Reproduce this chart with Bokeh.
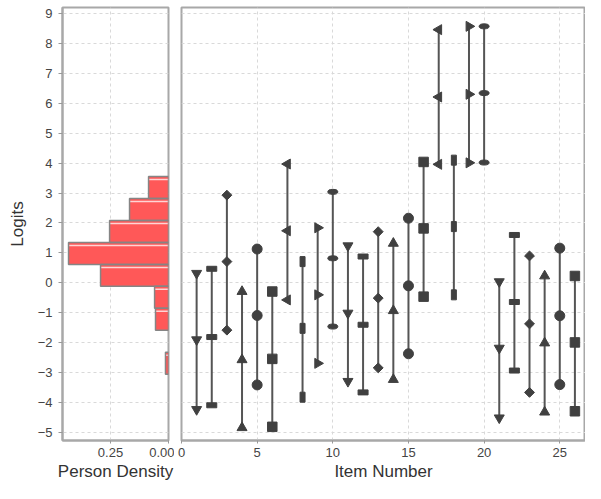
import numpy as np
from bokeh.plotting import figure
from bokeh.layouts import row
from bokeh.models import Range1d, FixedTicker, NumeralTickFormatter
from bokeh.embed import file_html
from bokeh.resources import INLINE

# ---------------- data ----------------
items = list(range(1, 27))
high = [0.32, 0.47, 2.93, -0.29, 1.13, -0.29, 3.97, 0.71, 1.84, 3.04,
        1.24, 0.88, 1.71, 1.32, 2.16, 4.04, 8.46, 4.10, 8.57, 8.57,
        0.04, 1.60, 0.90, 0.23, 1.16, 0.23]
mid = [-1.90, -1.81, 0.71, -2.57, -1.09, -2.54, 1.74, -1.52, -0.40, 0.82,
       -1.01, -1.40, -0.51, -0.93, -0.10, 1.82, 6.21, 1.88, 6.30, 6.34,
       -2.18, -0.64, -1.37, -2.01, -1.10, -1.99]
low = [-4.23, -4.09, -1.58, -4.84, -3.41, -4.81, -0.57, -3.82, -2.69, -1.46,
       -3.29, -3.66, -2.84, -3.23, -2.37, -0.46, 3.96, -0.40, 4.01, 4.02,
       -4.51, -2.93, -3.66, -4.32, -3.40, -4.29]

bin_edges = [-3.05, -2.317, -1.583, -0.85, -0.117, 0.617, 1.35, 2.083, 2.817, 3.55]
density = [0.013, 0.0, 0.056, 0.060, 0.293, 0.431, 0.254, 0.168, 0.086]

y_ticks = list(range(-5, 10))
item_ticks = [0, 5, 10, 15, 20, 25]
density_ticks = [0.0, 0.25]

shape_cycle = ["inverted_triangle", "hbar", "diamond", "triangle", "circle",
               "square", "left_triangle", "vbar", "right_triangle", "ellipse"]

# ---------------- style ----------------
FONT = "Liberation Sans"
FRAME = "#a8a8a8"
GRID = "#d9d9d9"
MARK = "#404040"
TICK_TXT = "#444444"
LABEL_TXT = "#333333"

yr = Range1d(-5.267, 9.2)


def style(p):
    p.outline_line_color = FRAME
    p.outline_line_width = 2
    p.background_fill_color = "white"
    p.border_fill_color = "white"
    for g in (p.xgrid, p.ygrid):
        g.grid_line_color = GRID
        g.grid_line_dash = "3 3"
        g.grid_line_width = 1
    for ax in p.axis:
        ax.axis_line_color = FRAME
        ax.axis_line_width = 2
        ax.major_tick_line_color = "#999999"
        ax.major_tick_in = 0
        ax.minor_tick_line_color = None
        ax.major_label_text_font = FONT
        ax.major_label_text_font_size = "13px"
        ax.major_label_text_color = TICK_TXT
        ax.axis_label_text_font = FONT
        ax.axis_label_text_font_size = "17px"
        ax.axis_label_text_font_style = "normal"
        ax.axis_label_text_color = LABEL_TXT


# ---------------- left: person density ----------------
left = figure(width=174, height=483, x_range=Range1d(0.457, 0.0), y_range=yr,
              output_backend="svg", toolbar_location=None,
              min_border_left=62, min_border_right=6, min_border_top=7,
              min_border_bottom=42)
style(left)
left.xaxis.ticker = FixedTicker(ticks=density_ticks)
left.xaxis.formatter = NumeralTickFormatter(format="0.00")
left.yaxis.ticker = FixedTicker(ticks=y_ticks)
left.ygrid.ticker = FixedTicker(ticks=y_ticks)
left.xgrid.ticker = FixedTicker(ticks=density_ticks)
left.xaxis.axis_label = "Person Density"
left.yaxis.axis_label = "Logits"
left.xaxis.major_tick_out = 3
left.yaxis.major_tick_out = 4
left.yaxis.major_label_standoff = 6
left.yaxis.axis_label_standoff = 8
left.xaxis.major_label_standoff = 4
left.xaxis.axis_label_standoff = 2

d = np.array(density)
e = np.array(bin_edges)
nz = d > 0
bot = e[:-1][nz]
top = e[1:][nz]
dv = d[nz]
left.quad(left=dv, right=0, bottom=bot, top=top, fill_color="#ff5858",
          line_color=None)
left.segment(x0=dv, y0=top - 0.1, x1=0, y1=top - 0.1,
             line_color="#ffd4d4", line_width=1.5)
left.quad(left=dv, right=0, bottom=bot, top=top, fill_color=None,
          line_color="#858585", line_width=1.5)

# ---------------- right: items ----------------
right = figure(width=411, height=483, x_range=Range1d(0, 26.7), y_range=yr,
               output_backend="svg", toolbar_location=None,
               y_axis_location=None,
               min_border_left=7, min_border_right=0, min_border_top=7,
               min_border_bottom=42)
style(right)
right.xaxis.ticker = FixedTicker(ticks=item_ticks)
right.xgrid.ticker = FixedTicker(ticks=item_ticks)
right.ygrid.ticker = FixedTicker(ticks=y_ticks)
right.xaxis.axis_label = "Item Number"
right.xaxis.major_tick_out = 3
right.xaxis.major_label_standoff = 4
right.xaxis.axis_label_standoff = 2

right.segment(x0=items, y0=low, x1=items, y1=high, line_color="#555555",
              line_width=2)

groups = {s: {"x": [], "y": []} for s in shape_cycle}
for i, it in enumerate(items):
    s = shape_cycle[i % len(shape_cycle)]
    for v in (high[i], mid[i], low[i]):
        groups[s]["x"].append(it)
        groups[s]["y"].append(v)

kw = dict(fill_color=MARK, line_color=MARK)
g = groups["inverted_triangle"]
right.scatter(g["x"], g["y"], marker="inverted_triangle", size=10, **kw)
g = groups["triangle"]
right.scatter(g["x"], g["y"], marker="triangle", size=10, **kw)
g = groups["circle"]
right.scatter(g["x"], g["y"], marker="circle", size=10, **kw)
g = groups["square"]
right.scatter(g["x"], g["y"], marker="square", size=9.5, **kw)
g = groups["diamond"]
right.scatter(g["x"], g["y"], marker="square", size=7, angle=np.pi / 4, **kw)
g = groups["left_triangle"]
right.scatter(g["x"], g["y"], marker="triangle", size=10, angle=np.pi / 2, **kw)
g = groups["right_triangle"]
right.scatter(g["x"], g["y"], marker="triangle", size=10, angle=-np.pi / 2, **kw)
g = groups["hbar"]
right.rect(g["x"], g["y"], width=10, height=5, width_units="screen",
           height_units="screen", **kw)
g = groups["vbar"]
right.rect(g["x"], g["y"], width=5, height=10, width_units="screen",
           height_units="screen", **kw)
g = groups["ellipse"]
right.ellipse(g["x"], g["y"], width=10, height=5, width_units="screen",
              height_units="screen", **kw)

layout = row(left, right)
open("out.html", "w").write(file_html(layout, INLINE))
